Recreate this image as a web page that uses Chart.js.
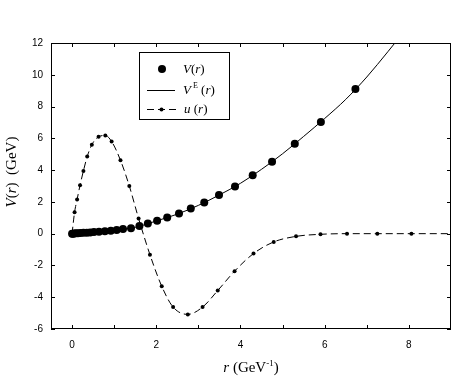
<!DOCTYPE html>
<html>
<head>
<meta charset="utf-8">
<script src="https://cdn.jsdelivr.net/npm/chart.js@4/dist/chart.umd.min.js"></script>
<style>
html,body{margin:0;padding:0;background:#fff;}
#wrap{width:474px;height:382px;position:relative;}
</style>
</head>
<body>
<div id="wrap"><canvas id="c"></canvas></div>
<script>
// ---- data ----
const vR   = [0, 0.02, 0.05, 0.09, 0.14, 0.20, 0.27, 0.35, 0.43, 0.52, 0.64, 0.78, 0.92, 1.06, 1.21, 1.40, 1.60, 1.80, 2.02, 2.26, 2.54, 2.82, 3.14, 3.49, 3.87, 4.29, 4.75, 5.29, 5.91, 6.73];
const vVal = [0.00, 0.00, 0.01, 0.02, 0.03, 0.04, 0.05, 0.06, 0.08, 0.10, 0.12, 0.15, 0.19, 0.23, 0.29, 0.34, 0.48, 0.64, 0.82, 1.02, 1.27, 1.58, 1.96, 2.43, 2.97, 3.68, 4.52, 5.66, 7.03, 9.10];

const veR   = [0, 0.5, 1.0, 1.5, 2.0, 2.5, 3.0, 3.5, 4.0, 4.5, 5.0, 5.5, 6.0, 6.5, 7.0, 7.5, 8.0];
const veVal = [0, 0.10, 0.22, 0.40, 0.80, 1.23, 1.78, 2.44, 3.17, 4.05, 5.03, 6.12, 7.25, 8.45, 9.86, 11.45, 13.1];

const uR   = [0, 0.06, 0.12, 0.19, 0.27, 0.36, 0.47, 0.63, 0.79, 0.94, 1.15, 1.36, 1.58, 1.85, 2.13, 2.40, 2.75, 3.10, 3.46, 3.86, 4.31, 4.79, 5.32, 5.90, 6.53, 7.25, 8.06, 9.0];
const uVal = [0, 1.35, 2.15, 3.05, 3.95, 4.85, 5.60, 6.10, 6.18, 5.80, 4.62, 3.00, 0.96, -1.32, -3.31, -4.62, -5.08, -4.62, -3.58, -2.36, -1.25, -0.52, -0.17, -0.04, 0, 0, 0, 0];

const xTickLabels = [0, 2, 4, 6, 8];
const xMinorTicks = [0, 1, 2, 3, 4, 5, 6, 7, 8];
const yTickLabels = [-6, -4, -2, 0, 2, 4, 6, 8, 10, 12];

const pts = (xs, ys) => xs.map((x, i) => ({x: x, y: ys[i]}));

const SERIF = '"Liberation Serif", "Times New Roman", serif';
const SANS = '"Liberation Sans", Arial, sans-serif';

function richText(ctx, segs, x, y) {
  let cx = x;
  for (const s of segs) {
    const size = s.size || 14;
    ctx.font = (s.i ? 'italic ' : '') + size + 'px ' + SERIF;
    ctx.fillText(s.t, cx, y - (s.dy || 0));
    cx += ctx.measureText(s.t).width;
  }
  return cx - x;
}
function richWidth(ctx, segs) {
  let w = 0;
  for (const s of segs) {
    const size = s.size || 14;
    ctx.font = (s.i ? 'italic ' : '') + size + 'px ' + SERIF;
    w += ctx.measureText(s.t).width;
  }
  return w;
}

const decor = {
  id: 'decor',
  afterDatasetsDraw(chart) {
    const {ctx, chartArea: a, scales: {x, y}} = chart;
    ctx.save();
    ctx.strokeStyle = '#000';
    ctx.lineWidth = 1;
    // frame
    ctx.strokeRect(Math.round(a.left) + 0.5, Math.round(a.top) + 0.5,
                   Math.round(a.right - a.left) - 1, Math.round(a.bottom - a.top) - 1);
    // inward ticks
    const TL = 4;
    ctx.beginPath();
    for (const v of xMinorTicks) {
      const px = Math.round(x.getPixelForValue(v)) + 0.5;
      ctx.moveTo(px, a.bottom); ctx.lineTo(px, a.bottom - TL);
      ctx.moveTo(px, a.top); ctx.lineTo(px, a.top + TL);
    }
    for (const v of yTickLabels) {
      const py = Math.round(y.getPixelForValue(v)) + 0.5;
      ctx.moveTo(a.left, py); ctx.lineTo(a.left + TL, py);
      ctx.moveTo(a.right, py); ctx.lineTo(a.right - TL, py);
    }
    ctx.stroke();

    ctx.fillStyle = '#000';
    ctx.textBaseline = 'alphabetic';
    // x axis title
    const xt = [{t: 'r', i: true, size: 15}, {t: ' (GeV', size: 15}, {t: '-1', size: 9, dy: 6}, {t: ')', size: 15}];
    const xw = richWidth(ctx, xt);
    richText(ctx, xt, (a.left + a.right) / 2 - xw / 2, 372);
    // y axis title
    const yt = [{t: 'V', i: true, size: 15}, {t: '(', size: 15}, {t: 'r', i: true, size: 15}, {t: ')  (GeV)', size: 15}];
    const yw = richWidth(ctx, yt);
    ctx.save();
    ctx.translate(16, 172);
    ctx.rotate(-Math.PI / 2);
    richText(ctx, yt, -yw / 2, 0);
    ctx.restore();

    // legend
    ctx.fillStyle = '#fff';
    ctx.fillRect(139.5, 52.5, 90, 67);
    ctx.strokeRect(139.5, 52.5, 90, 67);
    ctx.fillStyle = '#000';
    ctx.beginPath(); ctx.arc(162, 69, 4, 0, Math.PI * 2); ctx.fill();
    richText(ctx, [{t: 'V', i: true, size: 13}, {t: '(', size: 13}, {t: 'r', i: true, size: 13}, {t: ')', size: 13}], 183, 73);
    ctx.beginPath(); ctx.moveTo(147, 90.5); ctx.lineTo(175, 90.5); ctx.stroke();
    richText(ctx, [{t: 'V', i: true, size: 13}, {t: ' E', size: 8, dy: 6}, {t: ' (', size: 13}, {t: 'r', i: true, size: 13}, {t: ')', size: 13}], 183, 94);
    ctx.setLineDash([7, 4]);
    ctx.beginPath(); ctx.moveTo(147, 109.5); ctx.lineTo(176, 109.5); ctx.stroke();
    ctx.setLineDash([]);
    ctx.beginPath(); ctx.arc(161.5, 109.5, 2, 0, Math.PI * 2); ctx.fill();
    richText(ctx, [{t: 'u', i: true, size: 13}, {t: ' (', size: 13}, {t: 'r', i: true, size: 13}, {t: ')', size: 13}], 184, 113);
    ctx.restore();
  }
};

new Chart(document.getElementById('c'), {
  type: 'scatter',
  data: {
    datasets: [
      {
        label: 'V^E(r)',
        data: pts(veR, veVal),
        showLine: true,
        borderColor: '#000',
        borderWidth: 1,
        pointRadius: 0,
        cubicInterpolationMode: 'monotone',
        order: 3
      },
      {
        label: 'u(r)',
        data: pts(uR, uVal),
        showLine: true,
        borderColor: '#000',
        backgroundColor: '#000',
        borderWidth: 1,
        borderDash: [7, 4],
        pointRadius: ctx => (ctx.dataIndex === uR.length - 1 ? 0 : 2),
        pointBorderWidth: 0,
        cubicInterpolationMode: 'monotone',
        order: 2
      },
      {
        label: 'V(r)',
        data: pts(vR, vVal),
        showLine: false,
        backgroundColor: '#000',
        borderColor: '#000',
        pointRadius: 4,
        pointBorderWidth: 0,
        order: 1
      }
    ]
  },
  options: {
    responsive: true,
    maintainAspectRatio: false,
    animation: false,
    layout: {padding: {left: 0, right: 23, top: 43, bottom: 0}},
    plugins: {legend: {display: false}, tooltip: {enabled: false}},
    scales: {
      x: {
        type: 'linear', min: -0.5, max: 9,
        grid: {display: false, drawTicks: false}, border: {display: false},
        afterBuildTicks: s => { s.ticks = xTickLabels.map(v => ({value: v})); },
        afterFit: s => { s.height = 53; },
        ticks: {color: '#000', font: {family: SANS, size: 10}, padding: 10, autoSkip: false, maxRotation: 0}
      },
      y: {
        type: 'linear', min: -6, max: 12,
        grid: {display: false, drawTicks: false}, border: {display: false},
        afterBuildTicks: s => { s.ticks = yTickLabels.map(v => ({value: v})); },
        afterFit: s => { s.width = 51; },
        ticks: {color: '#000', font: {family: SANS, size: 10}, padding: 8, autoSkip: false}
      }
    }
  },
  plugins: [decor]
});
</script>
</body>
</html>
